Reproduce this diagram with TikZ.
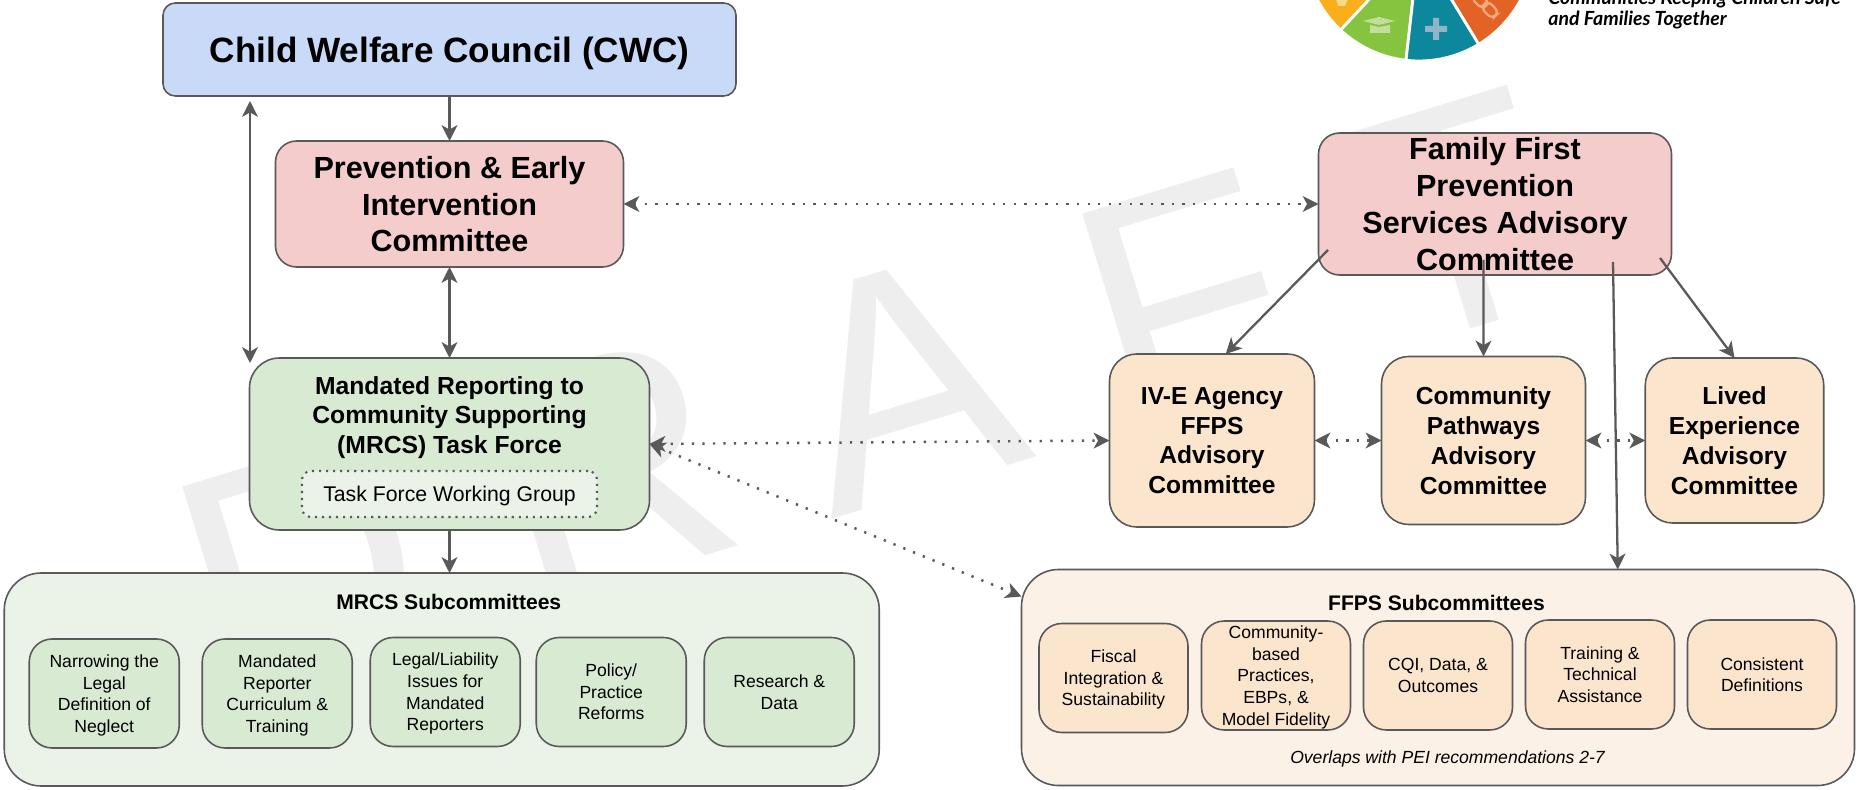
\documentclass[tikz,border=0pt]{standalone}
\usepackage{fontspec}
\setmainfont{Liberation Sans}
\newfontfamily\logofont{Lato}
\usetikzlibrary{arrows.meta}
\definecolor{edgegray}{HTML}{595959}
\definecolor{markgray}{HTML}{EEEEEE}
\definecolor{cwcblue}{HTML}{C9DAF8}
\definecolor{peired}{HTML}{F4CCCC}
\definecolor{taskgreen}{HTML}{D9EAD3}
\definecolor{palegreen}{HTML}{EBF3E8}
\definecolor{advorange}{HTML}{FCE5CD}
\definecolor{paleorange}{HTML}{FCF1E6}
\definecolor{logoyellow}{HTML}{F9AE1B}
\definecolor{logogreen}{HTML}{86C440}
\definecolor{logoteal}{HTML}{0C879C}
\definecolor{logoorange}{HTML}{E36327}
\definecolor{iconyellow}{HTML}{FCD98A}
\definecolor{icongreen}{HTML}{C1DE9C}
\definecolor{iconteal}{HTML}{8FB5C7}
\definecolor{iconorange}{HTML}{F2A97F}
\tikzstyle{box} = [rectangle, draw=edgegray, line width=0.9pt, outer sep=0pt, inner sep=0pt, align=center, text=black, text depth=0pt]
\tikzstyle{council} = [box, rounded corners=7pt, fill=cwcblue, minimum width=11.46cm, minimum height=1.86cm, font=\fontsize{20}{24}\selectfont\bfseries]
\tikzstyle{committee} = [box, rounded corners=12pt, fill=peired, font=\fontsize{17.4}{21}\selectfont\bfseries]
\tikzstyle{taskforce} = [box, rounded corners=17pt, fill=taskgreen, minimum width=8cm, minimum height=3.44cm]
\tikzstyle{taskhead} = [align=center, inner sep=0pt, font=\fontsize{14.05}{17}\selectfont\bfseries]
\tikzstyle{working} = [box, rounded corners=5pt, dash pattern=on 1.2pt off 2.8pt, line width=1.2pt, fill=palegreen, minimum width=5.9cm, minimum height=0.92cm, font=\fontsize{12.1}{15}\selectfont]
\tikzstyle{advisory} = [box, rounded corners=15.5pt, fill=advorange, font=\fontsize{14}{17}\selectfont\bfseries]
\tikzstyle{group} = [box, rounded corners=21pt]
\tikzstyle{grouphead} = [inner sep=0pt, font=\fontsize{12}{14}\selectfont\bfseries]
\tikzstyle{mrcsitem} = [box, rounded corners=13pt, fill=taskgreen, minimum width=3cm, minimum height=2.18cm, font=\fontsize{10}{12.3}\selectfont]
\tikzstyle{ffpsitem} = [box, rounded corners=13pt, fill=advorange, minimum width=2.98cm, minimum height=2.18cm, font=\fontsize{10}{12.3}\selectfont]
\tikzstyle{watermark} = [inner sep=0pt, rotate=17, text=markgray, font=\fontsize{184}{184}\selectfont]
\tikzstyle{slice} = [draw=white, line width=1.6pt]
\tikzstyle{arrow} = [draw=edgegray, line width=1.3pt, -{Stealth[length=9pt,width=9pt,inset=2.5pt]}]
\tikzstyle{twoway} = [arrow, {Stealth[length=9pt,width=9pt,inset=2.5pt]}-{Stealth[length=9pt,width=9pt,inset=2.5pt]}]
\tikzstyle{dotlink} = [twoway, line width=1.4pt, dash pattern=on 1.3pt off 4.7pt]
\begin{document}
\begin{tikzpicture}
   \useasboundingbox (0,0) rectangle (37.3,-15.8);
   \begin{scope}
      \clip (0,0) rectangle (37.3,-15.8);
      \node (markd) [watermark] at (6.04,-11.34) {D};
      \node (markr) [watermark] at (12.18,-9.38) {R};
      \node (marka) [watermark] at (18.04,-7.64) {A};
      \node (markf) [watermark] at (23.68,-5.98) {F};
      \node (markt) [watermark] at (29.04,-4.36) {T};
      \filldraw [slice, fill=logoyellow] (28.38,1.08) -- +(190:2.3) arc (190:227:2.3) -- cycle;
      \filldraw [slice, fill=logogreen] (28.38,1.08) -- +(227:2.3) arc (227:263.5:2.3) -- cycle;
      \filldraw [slice, fill=logoteal] (28.38,1.08) -- +(263.5:2.3) arc (263.5:301.3:2.3) -- cycle;
      \filldraw [slice, fill=logoorange] (28.38,1.08) -- +(301.3:2.3) arc (301.3:350:2.3) -- cycle;
      \fill [iconteal] (28.5,-0.52) rectangle (28.94,-0.64) (28.66,-0.36) rectangle (28.78,-0.8);
      \fill [icongreen] (27.26,-0.42) -- (27.58,-0.34) -- (27.9,-0.42) -- (27.58,-0.5) -- cycle (27.4,-0.5) -- (27.58,-0.54) -- (27.8,-0.5) -- (27.8,-0.66) -- (27.4,-0.66) -- cycle;
      \draw [line width=1.3pt, iconorange, rounded corners=3pt, rotate around={-45:(29.7,-0.1)}] (29.4,-0.2) rectangle (29.72,0) (29.68,-0.2) rectangle (30,0);
      \fill [iconyellow] (26.72,0.02) -- (26.96,0.02) -- (26.9,-0.12) -- (26.76,-0.12) -- cycle;
      \node (logotext) [anchor=north west, inner sep=0pt, align=left, font=\logofont\fontsize{11.1}{12}\selectfont\bfseries\itshape] at (30.96,0.2) {Communities Keeping Children Safe\\and Families Together};
   \end{scope}

   \node (cwc) [council] at (8.99,-0.99) {Child Welfare Council (CWC)};
   \node (pei) [committee, minimum width=6.96cm, minimum height=2.52cm, node distance=3.09cm, below of=cwc] {Prevention \& Early\\Intervention\\Committee};
   \node (mrcs) [taskforce, node distance=4.8cm, below of=pei] {};
   \node (mrcshead) [taskhead, node distance=0.53cm, above of=mrcs] {Mandated Reporting to\\Community Supporting\\(MRCS) Task Force};
   \node (wg) [working, node distance=1cm, below of=mrcs] {Task Force Working Group};
   \node (ff) [committee, minimum width=7.06cm, minimum height=2.84cm, node distance=20.91cm, right of=pei] {Family First\\Prevention\\Services Advisory\\Committee};
   \node (ive) [advisory, minimum width=4.1cm, minimum height=3.46cm, node distance=4.73cm, below of=ff, xshift=-5.66cm] {IV-E Agency\\FFPS\\Advisory\\Committee};
   \node (cp) [advisory, minimum width=4.08cm, minimum height=3.36cm, node distance=5.43cm, right of=ive] {Community\\Pathways\\Advisory\\Committee};
   \node (le) [advisory, minimum width=3.57cm, minimum height=3.3cm, node distance=5.02cm, right of=cp] {Lived\\Experience\\Advisory\\Committee};

   \node (mrcsgroup) [group, fill=palegreen, minimum width=17.5cm, minimum height=4.26cm, node distance=4.71cm, below of=mrcs, xshift=-0.155cm] {};
   \node (mrcsgrouphead) [grouphead, node distance=1.55cm, above of=mrcsgroup, xshift=0.14cm] {MRCS Subcommittees};
   \node (mrcsc) [mrcsitem, node distance=0.25cm, below of=mrcsgroup, xshift=0.07cm] {Legal/Liability\\Issues for\\Mandated\\Reporters};
   \node (mrcsb) [mrcsitem, node distance=3.36cm, left of=mrcsc, yshift=-0.03cm] {Mandated\\Reporter\\Curriculum \&\\Training};
   \node (mrcsa) [mrcsitem, node distance=3.46cm, left of=mrcsb] {Narrowing the\\Legal\\Definition of\\Neglect};
   \node (mrcsd) [mrcsitem, node distance=3.32cm, right of=mrcsc] {Policy/\\Practice\\Reforms};
   \node (mrcse) [mrcsitem, node distance=3.36cm, right of=mrcsd] {Research \&\\Data};

   \node (ffpsgroup) [group, fill=paleorange, minimum width=16.66cm, minimum height=4.32cm, node distance=4.74cm, below of=cp, xshift=-0.91cm] {};
   \node (ffpsgrouphead) [grouphead, node distance=1.5cm, above of=ffpsgroup, xshift=-0.03cm] {FFPS Subcommittees};
   \node (ffpsc) [ffpsitem, yshift=0.04cm] at (ffpsgroup) {CQI, Data, \&\\Outcomes};
   \node (ffpsb) [ffpsitem, node distance=3.24cm, left of=ffpsc] {Community-\\based\\Practices,\\EBPs, \&\\Model Fidelity};
   \node (ffpsa) [ffpsitem, node distance=3.25cm, left of=ffpsb, yshift=-0.05cm] {Fiscal\\Integration \&\\Sustainability};
   \node (ffpsd) [ffpsitem, node distance=3.24cm, right of=ffpsc, yshift=0.02cm] {Training \&\\Technical\\Assistance};
   \node (ffpse) [ffpsitem, node distance=3.24cm, right of=ffpsd] {Consistent\\Definitions};
   \node (overlap) [inner sep=0pt, node distance=1.62cm, below of=ffpsgroup, xshift=0.19cm, font=\fontsize{10}{12}\selectfont\itshape] {Overlaps with PEI recommendations 2-7};

   \coordinate (cwcend) at (5,-2.02);
   \coordinate (mrcsend) at (5,-7.26);
   \coordinate (ffleft) at (26.56,-5);
   \coordinate (ffmid) at (29.67,-5.2);
   \coordinate (ffdown) at (32.26,-5.24);
   \coordinate (ffright) at (33.2,-5.16);

   \draw [arrow] (cwc.south) -- (pei.north);
   \draw [twoway] (cwcend) -- (mrcsend);
   \draw [twoway] (pei.south) -- (mrcs.north);
   \draw [arrow] (mrcs.south) -- (mrcsgroup.north -| mrcs.south);
   \draw [dotlink] (pei.east) -- (ff.west);
   \draw [dotlink] (mrcs.east) -- (ive.west);
   \draw [dotlink] (mrcs.east) -- (ffpsgroup.169.4);
   \draw [dotlink] (ive.east) -- (cp.west);
   \draw [dotlink] (cp.east) -- (le.west);
   \draw [arrow] (ffleft) -- (ive.81.8);
   \draw [arrow] (ffmid) -- (cp.north);
   \draw [arrow] (ffdown) -- (ffpsgroup.31.5);
   \draw [arrow] (ffright) -- (le.north);
\end{tikzpicture}
\end{document}
